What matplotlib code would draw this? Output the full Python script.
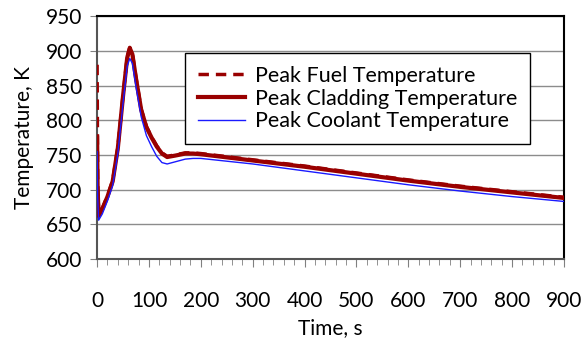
import matplotlib
matplotlib.use("Agg")
import matplotlib.pyplot as plt
from matplotlib.ticker import MultipleLocator

plt.rcParams['font.family'] = ['Lato', 'DejaVu Sans']

# time, s
time = [0, 1, 3, 10, 20, 30, 40, 50, 58, 63, 68, 75, 85, 95, 105, 115, 125,
        135, 150, 170, 185, 200, 300, 400, 500, 600, 700, 800, 900]
fuel = [880, 720, 664, 673, 691, 713, 761, 836, 891, 905, 896, 861, 816, 791,
        776, 763, 753, 748, 750, 753, 753, 752, 743, 734, 724, 714, 705, 697, 689]
cladding = [775, 700, 662, 672, 690, 712, 760, 835, 890, 904, 895, 860, 815,
            790, 775, 762, 752, 747, 749, 752, 752, 751, 742, 733, 723, 713,
            704, 696, 688]
coolant = [755, 690, 656, 665, 684, 706, 752, 825, 878, 889, 882, 848, 805,
           778, 762, 748, 739, 737, 740, 744, 745, 745, 737, 727, 717, 707,
           698, 690, 683]

dark_red = '#990000'
fs = 15

fig = plt.figure(figsize=(5.85, 3.44), dpi=100)
ax = fig.add_axes([0.166, 0.247, 0.798, 0.706])

ax.plot(time, fuel, color=dark_red, lw=2.5, ls=(0, (3, 2)), label='Peak Fuel Temperature', zorder=3)
ax.plot(time, cladding, color=dark_red, lw=3, label='Peak Cladding Temperature', zorder=4)
ax.plot(time, coolant, color='#1a1aff', lw=1, label='Peak Coolant Temperature', zorder=5)

ax.set_xlim(0, 900)
ax.set_ylim(600, 950)
ax.xaxis.set_major_locator(MultipleLocator(100))
ax.xaxis.set_minor_locator(MultipleLocator(20))
ax.yaxis.set_major_locator(MultipleLocator(50))

ax.grid(axis='y', color='#8c8c8c', lw=1)
ax.set_axisbelow(True)

for side in ['top', 'right']:
    ax.spines[side].set_color('black')
    ax.spines[side].set_linewidth(1.5)
for side in ['left', 'bottom']:
    ax.spines[side].set_color('#555555')
    ax.spines[side].set_linewidth(1.5)

ax.tick_params(axis='x', which='major', length=6, color='#808080', labelsize=fs, pad=17)
ax.tick_params(axis='x', which='minor', length=4, color='#808080')
ax.tick_params(axis='y', which='major', length=5, color='#808080', labelsize=fs, pad=6)

ax.set_xlabel('Time, s', fontsize=fs, labelpad=5)
ax.set_ylabel('Temperature, K', fontsize=fs, labelpad=8)

leg = ax.legend(loc='upper left', bbox_to_anchor=(0.188, 0.848), borderaxespad=0,
                prop={'size': 15.5}, frameon=True, fancybox=False, edgecolor='black',
                framealpha=1, handlelength=2.2, borderpad=0.6, labelspacing=0.12,
                handletextpad=0.45)
leg.get_frame().set_linewidth(1)

fig.savefig('out.png', dpi=100)
